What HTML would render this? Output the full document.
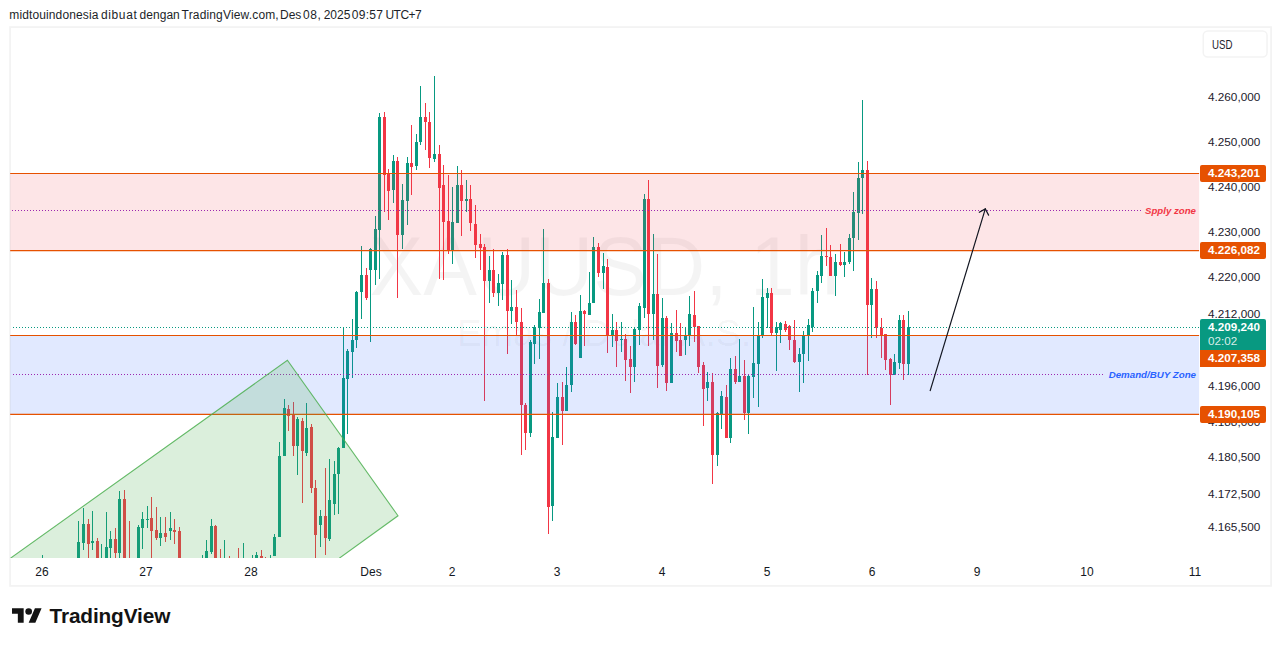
<!DOCTYPE html>
<html><head><meta charset="utf-8"><title>XAUUSD chart</title>
<style>
html,body{margin:0;padding:0;background:#fff;}
body{width:1281px;height:646px;position:relative;overflow:hidden;font-family:"Liberation Sans",sans-serif;color:#131722;}
.hdr{position:absolute;left:9.3px;top:7px;font-size:12px;line-height:16px;white-space:nowrap;color:#1c1f29;}
svg.main{position:absolute;left:0;top:0;}
.ax{position:absolute;left:1208px;width:60px;font-size:11.75px;line-height:16px;height:16px;white-space:nowrap;color:#1c202b;}
.tm{position:absolute;top:564px;width:40px;text-align:center;font-size:12px;line-height:16px;color:#131722;}
.lab{position:absolute;left:1200px;width:66px;height:17px;border-radius:2px;background:#e65100;color:#fff;font-weight:bold;font-size:11.7px;line-height:15px;box-sizing:border-box;padding-left:8px;white-space:nowrap;}
.usd{position:absolute;left:1211.6px;top:34.5px;width:50px;height:20px;font-size:13px;line-height:20px;color:#1e222d;}
.usd span{display:inline-block;transform:scaleX(0.745);transform-origin:0 50%;}
.logo{position:absolute;left:49.5px;top:604px;font-size:20.8px;line-height:24px;font-weight:bold;color:#131313;letter-spacing:-0.13px;}
</style></head><body>
<div class="hdr"><span style="position:absolute;left:0.0px;letter-spacing:0.12px">midtouindonesia</span><span style="position:absolute;left:91.6px;letter-spacing:0.65px">dibuat</span><span style="position:absolute;left:130.2px;letter-spacing:0.05px">dengan</span><span style="position:absolute;left:172.3px;letter-spacing:0.16px">TradingView.com,</span><span style="position:absolute;left:270.7px;letter-spacing:0px">Des</span><span style="position:absolute;left:293.8px;letter-spacing:0.5px">08,</span><span style="position:absolute;left:314.4px;letter-spacing:0px">2025</span><span style="position:absolute;left:342.5px;letter-spacing:0.25px">09:57</span><span style="position:absolute;left:376.2px;letter-spacing:-0.55px">UTC+7</span></div>
<svg class="main" width="1281" height="646" viewBox="0 0 1281 646">
<defs><clipPath id="pane"><rect x="10.1" y="27.6" width="1189.2" height="530.4"/></clipPath></defs>
<rect x="10.05" y="27.05" width="1261" height="558.85" fill="none" stroke="#f3f3f3" stroke-width="1.75"/>
<rect x="1203.25" y="31.05" width="63.8" height="26" rx="4.5" fill="none" stroke="#f3f3f3" stroke-width="1.5"/>
<g font-family="Liberation Sans, sans-serif" fill="#000" fill-opacity="0.045">
<text x="604.5" y="294.5" font-size="84" text-anchor="middle" textLength="470" lengthAdjust="spacingAndGlyphs">XAUUSD, 1h</text>
<text x="604" y="345.7" font-size="36.5" text-anchor="middle" textLength="294" lengthAdjust="spacingAndGlyphs">Emas / Dolar A.S.</text>
</g>
<g clip-path="url(#pane)" shape-rendering="crispEdges">
<rect x="42" y="555" width="1" height="4" fill="#089981"/>
<rect x="78" y="521" width="1" height="38" fill="#089981"/>
<rect x="77" y="542" width="3" height="17" fill="#089981"/>
<rect x="83" y="508" width="1" height="42" fill="#089981"/>
<rect x="82" y="524" width="3" height="19" fill="#089981"/>
<rect x="88" y="519" width="1" height="40" fill="#f23645"/>
<rect x="87" y="524" width="3" height="20" fill="#f23645"/>
<rect x="92" y="511" width="1" height="39" fill="#089981"/>
<rect x="91" y="541" width="3" height="2" fill="#089981"/>
<rect x="97" y="538" width="1" height="21" fill="#f23645"/>
<rect x="96" y="541" width="3" height="18" fill="#f23645"/>
<rect x="101" y="544" width="1" height="15" fill="#089981"/>
<rect x="106" y="512" width="1" height="47" fill="#089981"/>
<rect x="105" y="547" width="3" height="12" fill="#089981"/>
<rect x="110" y="531" width="1" height="28" fill="#089981"/>
<rect x="109" y="539" width="3" height="9" fill="#089981"/>
<rect x="115" y="528" width="1" height="31" fill="#f23645"/>
<rect x="114" y="539" width="3" height="14" fill="#f23645"/>
<rect x="119" y="491" width="1" height="68" fill="#089981"/>
<rect x="118" y="499" width="3" height="54" fill="#089981"/>
<rect x="124" y="490" width="1" height="69" fill="#f23645"/>
<rect x="123" y="499" width="3" height="60" fill="#f23645"/>
<rect x="129" y="521" width="1" height="38" fill="#f23645"/>
<rect x="138" y="525" width="1" height="34" fill="#089981"/>
<rect x="137" y="527" width="3" height="32" fill="#089981"/>
<rect x="142" y="512" width="1" height="37" fill="#089981"/>
<rect x="141" y="519" width="3" height="9" fill="#089981"/>
<rect x="147" y="506" width="1" height="22" fill="#089981"/>
<rect x="146" y="519" width="3" height="1" fill="#089981"/>
<rect x="151" y="497" width="1" height="62" fill="#f23645"/>
<rect x="150" y="518" width="3" height="13" fill="#f23645"/>
<rect x="156" y="507" width="1" height="33" fill="#f23645"/>
<rect x="155" y="530" width="3" height="8" fill="#f23645"/>
<rect x="160" y="517" width="1" height="29" fill="#089981"/>
<rect x="159" y="533" width="3" height="5" fill="#089981"/>
<rect x="165" y="517" width="1" height="25" fill="#f23645"/>
<rect x="164" y="533" width="3" height="4" fill="#f23645"/>
<rect x="170" y="512" width="1" height="28" fill="#089981"/>
<rect x="169" y="528" width="3" height="3" fill="#089981"/>
<rect x="174" y="519" width="1" height="25" fill="#f23645"/>
<rect x="173" y="530" width="3" height="2" fill="#f23645"/>
<rect x="179" y="527" width="1" height="32" fill="#f23645"/>
<rect x="178" y="531" width="3" height="28" fill="#f23645"/>
<rect x="202" y="555" width="1" height="4" fill="#089981"/>
<rect x="206" y="540" width="1" height="19" fill="#089981"/>
<rect x="205" y="551" width="3" height="8" fill="#089981"/>
<rect x="211" y="519" width="1" height="35" fill="#089981"/>
<rect x="210" y="526" width="3" height="26" fill="#089981"/>
<rect x="215" y="525" width="1" height="34" fill="#f23645"/>
<rect x="214" y="526" width="3" height="33" fill="#f23645"/>
<rect x="220" y="549" width="1" height="10" fill="#f23645"/>
<rect x="224" y="540" width="1" height="19" fill="#089981"/>
<rect x="229" y="556" width="1" height="3" fill="#f23645"/>
<rect x="238" y="548" width="1" height="11" fill="#f23645"/>
<rect x="243" y="543" width="1" height="16" fill="#089981"/>
<rect x="252" y="555" width="1" height="4" fill="#089981"/>
<rect x="256" y="552" width="1" height="7" fill="#089981"/>
<rect x="255" y="555" width="3" height="4" fill="#089981"/>
<rect x="261" y="550" width="1" height="9" fill="#f23645"/>
<rect x="260" y="556" width="3" height="2" fill="#f23645"/>
<rect x="265" y="557" width="1" height="2" fill="#f23645"/>
<rect x="270" y="555" width="1" height="4" fill="#089981"/>
<rect x="274" y="534" width="1" height="22" fill="#089981"/>
<rect x="273" y="537" width="3" height="19" fill="#089981"/>
<rect x="279" y="442" width="1" height="95" fill="#089981"/>
<rect x="278" y="456" width="3" height="81" fill="#089981"/>
<rect x="284" y="399" width="1" height="57" fill="#089981"/>
<rect x="283" y="408" width="3" height="48" fill="#089981"/>
<rect x="288" y="405" width="1" height="26" fill="#f23645"/>
<rect x="287" y="409" width="3" height="7" fill="#f23645"/>
<rect x="293" y="402" width="1" height="54" fill="#f23645"/>
<rect x="292" y="414" width="3" height="32" fill="#f23645"/>
<rect x="297" y="417" width="1" height="58" fill="#089981"/>
<rect x="296" y="419" width="3" height="27" fill="#089981"/>
<rect x="302" y="418" width="1" height="85" fill="#f23645"/>
<rect x="301" y="421" width="3" height="30" fill="#f23645"/>
<rect x="306" y="403" width="1" height="53" fill="#089981"/>
<rect x="305" y="428" width="3" height="25" fill="#089981"/>
<rect x="311" y="424" width="1" height="69" fill="#f23645"/>
<rect x="310" y="427" width="3" height="61" fill="#f23645"/>
<rect x="315" y="480" width="1" height="79" fill="#f23645"/>
<rect x="314" y="488" width="3" height="47" fill="#f23645"/>
<rect x="320" y="510" width="1" height="37" fill="#089981"/>
<rect x="319" y="516" width="3" height="9" fill="#089981"/>
<rect x="325" y="468" width="1" height="87" fill="#f23645"/>
<rect x="324" y="516" width="3" height="22" fill="#f23645"/>
<rect x="329" y="459" width="1" height="82" fill="#089981"/>
<rect x="328" y="500" width="3" height="39" fill="#089981"/>
<rect x="334" y="461" width="1" height="54" fill="#089981"/>
<rect x="333" y="474" width="3" height="30" fill="#089981"/>
<rect x="338" y="447" width="1" height="67" fill="#089981"/>
<rect x="337" y="448" width="3" height="26" fill="#089981"/>
<rect x="343" y="327" width="1" height="121" fill="#089981"/>
<rect x="342" y="378" width="3" height="70" fill="#089981"/>
<rect x="347" y="349" width="1" height="85" fill="#089981"/>
<rect x="346" y="351" width="3" height="28" fill="#089981"/>
<rect x="352" y="319" width="1" height="59" fill="#089981"/>
<rect x="351" y="340" width="3" height="12" fill="#089981"/>
<rect x="356" y="291" width="1" height="57" fill="#089981"/>
<rect x="355" y="292" width="3" height="48" fill="#089981"/>
<rect x="361" y="246" width="1" height="73" fill="#089981"/>
<rect x="360" y="275" width="3" height="17" fill="#089981"/>
<rect x="366" y="268" width="1" height="32" fill="#f23645"/>
<rect x="365" y="275" width="3" height="23" fill="#f23645"/>
<rect x="370" y="248" width="1" height="94" fill="#089981"/>
<rect x="369" y="249" width="3" height="21" fill="#089981"/>
<rect x="375" y="216" width="1" height="69" fill="#089981"/>
<rect x="374" y="229" width="3" height="41" fill="#089981"/>
<rect x="379" y="113" width="1" height="166" fill="#089981"/>
<rect x="378" y="117" width="3" height="113" fill="#089981"/>
<rect x="384" y="112" width="1" height="100" fill="#f23645"/>
<rect x="383" y="117" width="3" height="58" fill="#f23645"/>
<rect x="388" y="169" width="1" height="51" fill="#f23645"/>
<rect x="387" y="174" width="3" height="17" fill="#f23645"/>
<rect x="393" y="155" width="1" height="48" fill="#089981"/>
<rect x="392" y="161" width="3" height="29" fill="#089981"/>
<rect x="397" y="157" width="1" height="141" fill="#f23645"/>
<rect x="396" y="161" width="3" height="74" fill="#f23645"/>
<rect x="402" y="184" width="1" height="65" fill="#089981"/>
<rect x="401" y="200" width="3" height="35" fill="#089981"/>
<rect x="407" y="157" width="1" height="68" fill="#089981"/>
<rect x="406" y="163" width="3" height="38" fill="#089981"/>
<rect x="411" y="125" width="1" height="70" fill="#f23645"/>
<rect x="410" y="163" width="3" height="4" fill="#f23645"/>
<rect x="416" y="134" width="1" height="36" fill="#089981"/>
<rect x="415" y="142" width="3" height="24" fill="#089981"/>
<rect x="420" y="86" width="1" height="59" fill="#089981"/>
<rect x="419" y="117" width="3" height="25" fill="#089981"/>
<rect x="425" y="103" width="1" height="47" fill="#f23645"/>
<rect x="424" y="117" width="3" height="5" fill="#f23645"/>
<rect x="429" y="112" width="1" height="56" fill="#f23645"/>
<rect x="428" y="122" width="3" height="36" fill="#f23645"/>
<rect x="434" y="76" width="1" height="86" fill="#089981"/>
<rect x="433" y="154" width="3" height="5" fill="#089981"/>
<rect x="439" y="145" width="1" height="134" fill="#f23645"/>
<rect x="438" y="154" width="3" height="34" fill="#f23645"/>
<rect x="443" y="165" width="1" height="115" fill="#f23645"/>
<rect x="442" y="185" width="3" height="37" fill="#f23645"/>
<rect x="448" y="175" width="1" height="79" fill="#f23645"/>
<rect x="447" y="221" width="3" height="29" fill="#f23645"/>
<rect x="452" y="187" width="1" height="77" fill="#089981"/>
<rect x="451" y="222" width="3" height="28" fill="#089981"/>
<rect x="457" y="166" width="1" height="57" fill="#089981"/>
<rect x="456" y="185" width="3" height="38" fill="#089981"/>
<rect x="461" y="170" width="1" height="66" fill="#f23645"/>
<rect x="460" y="185" width="3" height="16" fill="#f23645"/>
<rect x="466" y="180" width="1" height="32" fill="#089981"/>
<rect x="465" y="199" width="3" height="2" fill="#089981"/>
<rect x="470" y="185" width="1" height="46" fill="#f23645"/>
<rect x="469" y="199" width="3" height="24" fill="#f23645"/>
<rect x="475" y="205" width="1" height="53" fill="#f23645"/>
<rect x="474" y="224" width="3" height="21" fill="#f23645"/>
<rect x="480" y="234" width="1" height="36" fill="#f23645"/>
<rect x="479" y="244" width="3" height="4" fill="#f23645"/>
<rect x="484" y="244" width="1" height="157" fill="#f23645"/>
<rect x="483" y="247" width="3" height="34" fill="#f23645"/>
<rect x="489" y="256" width="1" height="47" fill="#089981"/>
<rect x="488" y="270" width="3" height="11" fill="#089981"/>
<rect x="493" y="249" width="1" height="48" fill="#f23645"/>
<rect x="492" y="270" width="3" height="23" fill="#f23645"/>
<rect x="498" y="274" width="1" height="32" fill="#089981"/>
<rect x="497" y="283" width="3" height="10" fill="#089981"/>
<rect x="502" y="252" width="1" height="48" fill="#089981"/>
<rect x="501" y="255" width="3" height="29" fill="#089981"/>
<rect x="507" y="249" width="1" height="105" fill="#f23645"/>
<rect x="506" y="255" width="3" height="56" fill="#f23645"/>
<rect x="511" y="280" width="1" height="44" fill="#089981"/>
<rect x="510" y="307" width="3" height="4" fill="#089981"/>
<rect x="516" y="290" width="1" height="45" fill="#f23645"/>
<rect x="515" y="307" width="3" height="15" fill="#f23645"/>
<rect x="521" y="308" width="1" height="147" fill="#f23645"/>
<rect x="520" y="322" width="3" height="83" fill="#f23645"/>
<rect x="525" y="403" width="1" height="47" fill="#f23645"/>
<rect x="524" y="405" width="3" height="28" fill="#f23645"/>
<rect x="530" y="340" width="1" height="97" fill="#089981"/>
<rect x="529" y="342" width="3" height="91" fill="#089981"/>
<rect x="534" y="325" width="1" height="39" fill="#089981"/>
<rect x="533" y="327" width="3" height="17" fill="#089981"/>
<rect x="539" y="299" width="1" height="60" fill="#089981"/>
<rect x="538" y="312" width="3" height="16" fill="#089981"/>
<rect x="543" y="229" width="1" height="84" fill="#089981"/>
<rect x="542" y="283" width="3" height="30" fill="#089981"/>
<rect x="548" y="279" width="1" height="255" fill="#f23645"/>
<rect x="547" y="283" width="3" height="224" fill="#f23645"/>
<rect x="552" y="412" width="1" height="109" fill="#089981"/>
<rect x="551" y="437" width="3" height="69" fill="#089981"/>
<rect x="557" y="383" width="1" height="55" fill="#089981"/>
<rect x="556" y="397" width="3" height="41" fill="#089981"/>
<rect x="562" y="382" width="1" height="63" fill="#f23645"/>
<rect x="561" y="397" width="3" height="14" fill="#f23645"/>
<rect x="566" y="367" width="1" height="44" fill="#089981"/>
<rect x="565" y="385" width="3" height="26" fill="#089981"/>
<rect x="571" y="312" width="1" height="80" fill="#089981"/>
<rect x="570" y="322" width="3" height="63" fill="#089981"/>
<rect x="575" y="315" width="1" height="30" fill="#f23645"/>
<rect x="574" y="322" width="3" height="22" fill="#f23645"/>
<rect x="580" y="295" width="1" height="63" fill="#089981"/>
<rect x="579" y="311" width="3" height="47" fill="#089981"/>
<rect x="584" y="310" width="1" height="36" fill="#f23645"/>
<rect x="583" y="311" width="3" height="3" fill="#f23645"/>
<rect x="589" y="272" width="1" height="43" fill="#089981"/>
<rect x="588" y="303" width="3" height="12" fill="#089981"/>
<rect x="593" y="237" width="1" height="66" fill="#089981"/>
<rect x="592" y="247" width="3" height="56" fill="#089981"/>
<rect x="598" y="243" width="1" height="34" fill="#f23645"/>
<rect x="597" y="247" width="3" height="26" fill="#f23645"/>
<rect x="603" y="253" width="1" height="36" fill="#089981"/>
<rect x="602" y="266" width="3" height="7" fill="#089981"/>
<rect x="607" y="259" width="1" height="94" fill="#f23645"/>
<rect x="606" y="267" width="3" height="68" fill="#f23645"/>
<rect x="612" y="314" width="1" height="33" fill="#089981"/>
<rect x="611" y="330" width="3" height="5" fill="#089981"/>
<rect x="616" y="322" width="1" height="45" fill="#f23645"/>
<rect x="615" y="330" width="3" height="11" fill="#f23645"/>
<rect x="621" y="322" width="1" height="30" fill="#089981"/>
<rect x="620" y="339" width="3" height="1" fill="#089981"/>
<rect x="625" y="334" width="1" height="47" fill="#f23645"/>
<rect x="624" y="339" width="3" height="21" fill="#f23645"/>
<rect x="630" y="346" width="1" height="47" fill="#f23645"/>
<rect x="629" y="359" width="3" height="8" fill="#f23645"/>
<rect x="634" y="327" width="1" height="55" fill="#089981"/>
<rect x="633" y="329" width="3" height="38" fill="#089981"/>
<rect x="639" y="303" width="1" height="42" fill="#089981"/>
<rect x="638" y="306" width="3" height="24" fill="#089981"/>
<rect x="644" y="194" width="1" height="124" fill="#089981"/>
<rect x="643" y="199" width="3" height="109" fill="#089981"/>
<rect x="648" y="180" width="1" height="166" fill="#f23645"/>
<rect x="647" y="199" width="3" height="115" fill="#f23645"/>
<rect x="653" y="234" width="1" height="106" fill="#089981"/>
<rect x="652" y="294" width="3" height="20" fill="#089981"/>
<rect x="657" y="254" width="1" height="134" fill="#f23645"/>
<rect x="656" y="294" width="3" height="72" fill="#f23645"/>
<rect x="662" y="298" width="1" height="69" fill="#089981"/>
<rect x="661" y="318" width="3" height="47" fill="#089981"/>
<rect x="666" y="316" width="1" height="75" fill="#f23645"/>
<rect x="665" y="318" width="3" height="65" fill="#f23645"/>
<rect x="671" y="323" width="1" height="60" fill="#089981"/>
<rect x="670" y="333" width="3" height="50" fill="#089981"/>
<rect x="676" y="310" width="1" height="42" fill="#f23645"/>
<rect x="675" y="333" width="3" height="8" fill="#f23645"/>
<rect x="680" y="323" width="1" height="33" fill="#f23645"/>
<rect x="679" y="340" width="3" height="16" fill="#f23645"/>
<rect x="685" y="327" width="1" height="28" fill="#089981"/>
<rect x="684" y="335" width="3" height="5" fill="#089981"/>
<rect x="689" y="296" width="1" height="50" fill="#089981"/>
<rect x="688" y="314" width="3" height="21" fill="#089981"/>
<rect x="694" y="291" width="1" height="51" fill="#f23645"/>
<rect x="693" y="315" width="3" height="12" fill="#f23645"/>
<rect x="698" y="326" width="1" height="47" fill="#f23645"/>
<rect x="697" y="326" width="3" height="41" fill="#f23645"/>
<rect x="703" y="362" width="1" height="64" fill="#f23645"/>
<rect x="702" y="365" width="3" height="24" fill="#f23645"/>
<rect x="707" y="372" width="1" height="29" fill="#089981"/>
<rect x="706" y="382" width="3" height="6" fill="#089981"/>
<rect x="712" y="373" width="1" height="111" fill="#f23645"/>
<rect x="711" y="382" width="3" height="73" fill="#f23645"/>
<rect x="717" y="412" width="1" height="54" fill="#089981"/>
<rect x="716" y="413" width="3" height="42" fill="#089981"/>
<rect x="721" y="391" width="1" height="38" fill="#089981"/>
<rect x="720" y="396" width="3" height="18" fill="#089981"/>
<rect x="726" y="385" width="1" height="53" fill="#f23645"/>
<rect x="725" y="397" width="3" height="41" fill="#f23645"/>
<rect x="730" y="358" width="1" height="85" fill="#089981"/>
<rect x="729" y="369" width="3" height="69" fill="#089981"/>
<rect x="735" y="356" width="1" height="28" fill="#f23645"/>
<rect x="734" y="369" width="3" height="13" fill="#f23645"/>
<rect x="739" y="339" width="1" height="43" fill="#089981"/>
<rect x="738" y="376" width="3" height="6" fill="#089981"/>
<rect x="744" y="360" width="1" height="60" fill="#f23645"/>
<rect x="743" y="376" width="3" height="37" fill="#f23645"/>
<rect x="748" y="374" width="1" height="60" fill="#089981"/>
<rect x="747" y="376" width="3" height="37" fill="#089981"/>
<rect x="753" y="307" width="1" height="91" fill="#089981"/>
<rect x="752" y="363" width="3" height="14" fill="#089981"/>
<rect x="758" y="322" width="1" height="85" fill="#089981"/>
<rect x="757" y="335" width="3" height="29" fill="#089981"/>
<rect x="762" y="279" width="1" height="59" fill="#089981"/>
<rect x="761" y="297" width="3" height="38" fill="#089981"/>
<rect x="767" y="288" width="1" height="40" fill="#089981"/>
<rect x="766" y="293" width="3" height="5" fill="#089981"/>
<rect x="771" y="288" width="1" height="47" fill="#f23645"/>
<rect x="770" y="293" width="3" height="40" fill="#f23645"/>
<rect x="776" y="322" width="1" height="49" fill="#089981"/>
<rect x="775" y="327" width="3" height="6" fill="#089981"/>
<rect x="780" y="322" width="1" height="21" fill="#089981"/>
<rect x="779" y="323" width="3" height="7" fill="#089981"/>
<rect x="785" y="321" width="1" height="11" fill="#f23645"/>
<rect x="784" y="324" width="3" height="6" fill="#f23645"/>
<rect x="789" y="325" width="1" height="25" fill="#f23645"/>
<rect x="788" y="326" width="3" height="14" fill="#f23645"/>
<rect x="794" y="320" width="1" height="43" fill="#f23645"/>
<rect x="793" y="340" width="3" height="22" fill="#f23645"/>
<rect x="799" y="348" width="1" height="44" fill="#089981"/>
<rect x="798" y="354" width="3" height="8" fill="#089981"/>
<rect x="803" y="331" width="1" height="52" fill="#089981"/>
<rect x="802" y="335" width="3" height="19" fill="#089981"/>
<rect x="808" y="319" width="1" height="42" fill="#089981"/>
<rect x="807" y="325" width="3" height="10" fill="#089981"/>
<rect x="812" y="288" width="1" height="44" fill="#089981"/>
<rect x="811" y="291" width="3" height="36" fill="#089981"/>
<rect x="817" y="271" width="1" height="32" fill="#089981"/>
<rect x="816" y="275" width="3" height="16" fill="#089981"/>
<rect x="821" y="235" width="1" height="48" fill="#089981"/>
<rect x="820" y="256" width="3" height="20" fill="#089981"/>
<rect x="826" y="228" width="1" height="38" fill="#f23645"/>
<rect x="825" y="256" width="3" height="1" fill="#f23645"/>
<rect x="830" y="245" width="1" height="31" fill="#f23645"/>
<rect x="829" y="257" width="3" height="19" fill="#f23645"/>
<rect x="835" y="254" width="1" height="42" fill="#089981"/>
<rect x="834" y="262" width="3" height="14" fill="#089981"/>
<rect x="840" y="244" width="1" height="22" fill="#f23645"/>
<rect x="839" y="262" width="3" height="3" fill="#f23645"/>
<rect x="844" y="252" width="1" height="25" fill="#089981"/>
<rect x="843" y="262" width="3" height="3" fill="#089981"/>
<rect x="849" y="234" width="1" height="30" fill="#089981"/>
<rect x="848" y="238" width="3" height="24" fill="#089981"/>
<rect x="853" y="192" width="1" height="79" fill="#089981"/>
<rect x="852" y="212" width="3" height="26" fill="#089981"/>
<rect x="858" y="162" width="1" height="78" fill="#089981"/>
<rect x="857" y="178" width="3" height="35" fill="#089981"/>
<rect x="862" y="100" width="1" height="114" fill="#089981"/>
<rect x="861" y="170" width="3" height="8" fill="#089981"/>
<rect x="867" y="161" width="1" height="214" fill="#f23645"/>
<rect x="866" y="170" width="3" height="135" fill="#f23645"/>
<rect x="871" y="278" width="1" height="60" fill="#089981"/>
<rect x="870" y="289" width="3" height="16" fill="#089981"/>
<rect x="876" y="281" width="1" height="57" fill="#f23645"/>
<rect x="875" y="289" width="3" height="39" fill="#f23645"/>
<rect x="881" y="318" width="1" height="40" fill="#f23645"/>
<rect x="880" y="328" width="3" height="7" fill="#f23645"/>
<rect x="885" y="334" width="1" height="36" fill="#f23645"/>
<rect x="884" y="334" width="3" height="26" fill="#f23645"/>
<rect x="890" y="358" width="1" height="47" fill="#f23645"/>
<rect x="889" y="359" width="3" height="16" fill="#f23645"/>
<rect x="894" y="354" width="1" height="21" fill="#089981"/>
<rect x="893" y="362" width="3" height="13" fill="#089981"/>
<rect x="899" y="315" width="1" height="54" fill="#089981"/>
<rect x="898" y="320" width="3" height="43" fill="#089981"/>
<rect x="903" y="315" width="1" height="65" fill="#f23645"/>
<rect x="902" y="320" width="3" height="44" fill="#f23645"/>
<rect x="908" y="311" width="1" height="64" fill="#089981"/>
<rect x="907" y="327" width="3" height="37" fill="#089981"/>
</g>
<g clip-path="url(#pane)">
<rect x="10.1" y="173.5" width="1189.2" height="77" fill="#f23645" fill-opacity="0.13"/>
<rect x="10.1" y="335.5" width="1189.2" height="78.8" fill="#2962ff" fill-opacity="0.14"/>
<g stroke="#e65100" stroke-width="1.2">
<line x1="10.1" x2="1199.3" y1="173.5" y2="173.5"/>
<line x1="10.1" x2="1199.3" y1="250.6" y2="250.6"/>
<line x1="10.1" x2="1199.3" y1="335.5" y2="335.5"/>
<line x1="10.1" x2="1199.3" y1="414.3" y2="414.3"/>
</g>
<g shape-rendering="crispEdges"><line x1="12" x2="1141" y1="210.5" y2="210.5" stroke="#9c27b0" stroke-width="1" stroke-dasharray="1 2"/>
<line x1="13" x2="1103" y1="374.5" y2="374.5" stroke="#9c27b0" stroke-width="1" stroke-dasharray="1 2"/>
<line x1="13" x2="1199" y1="327.5" y2="327.5" stroke="#089981" stroke-width="1" stroke-dasharray="1 2"/></g>
<polygon points="10.5,558.2 287.4,360.3 398,515.8 339.3,558.2 339.3,570 10.5,570" fill="#4caf50" fill-opacity="0.2"/>
<polyline points="10.5,558.2 287.4,360.3 398,515.8 339.3,558.2" fill="none" stroke="#4caf50" stroke-opacity="0.85" stroke-width="1.1"/>
<g stroke="#131722" stroke-width="1.2" fill="none" stroke-linecap="round">
<line x1="930.2" y1="390.7" x2="985.3" y2="208.9"/>
<polyline points="979.3,212.3 985.3,208.9 988.6,215.1"/>
</g>
<g font-family="Liberation Sans, sans-serif" font-weight="bold" font-style="italic" font-size="9.9">
<text x="1196" y="214.2" text-anchor="end" fill="#f23645" textLength="51" lengthAdjust="spacingAndGlyphs">Spply zone</text>
<text x="1196" y="378.2" text-anchor="end" fill="#2962ff" textLength="87.3" lengthAdjust="spacingAndGlyphs">Demand/BUY Zone</text>
</g>
</g>
</svg>
<div class="ax" style="top:89px">4.260,000</div>
<div class="ax" style="top:134px">4.250,000</div>
<div class="ax" style="top:179px">4.240,000</div>
<div class="ax" style="top:224px">4.230,000</div>
<div class="ax" style="top:269px">4.220,000</div>
<div class="ax" style="top:306px">4.212,000</div>
<div class="ax" style="top:378px">4.196,000</div>
<div class="ax" style="top:413.5px">4.188,000</div>
<div class="ax" style="top:449px">4.180,500</div>
<div class="ax" style="top:486px">4.172,500</div>
<div class="ax" style="top:518.5px">4.165,500</div>
<div class="tm" style="left:22px">26</div>
<div class="tm" style="left:126px">27</div>
<div class="tm" style="left:231px">28</div>
<div class="tm" style="left:351px">Des</div>
<div class="tm" style="left:432px">2</div>
<div class="tm" style="left:537px">3</div>
<div class="tm" style="left:642px">4</div>
<div class="tm" style="left:747px">5</div>
<div class="tm" style="left:852px">6</div>
<div class="tm" style="left:957px">9</div>
<div class="tm" style="left:1067px">10</div>
<div class="tm" style="left:1175px">11</div>
<div class="usd"><span>USD</span></div>
<div class="lab" style="top:165px">4.243,201</div>
<div class="lab" style="top:242px">4.226,082</div>
<div class="lab" style="top:319px;height:31px;background:#089981;border-radius:2px 2px 0 0">4.209,240<div style="position:absolute;left:8px;top:12.6px;line-height:17px;font-weight:normal;color:rgba(255,255,255,0.85)">02:02</div></div>
<div class="lab" style="top:350px;border-radius:0 0 2px 0">4.207,358</div>
<div class="lab" style="top:406px">4.190,105</div>
<svg style="position:absolute;left:12.2px;top:605.1px" width="30" height="22.55" viewBox="0 0 36 28" preserveAspectRatio="none"><path fill="#131313" d="M14 22H7V11H0V4h14v18zM28 22h-8l7.5-18h8L28 22z"/><circle cx="20" cy="8" r="4" fill="#131313"/></svg>
<div class="logo">TradingView</div>
</body></html>
